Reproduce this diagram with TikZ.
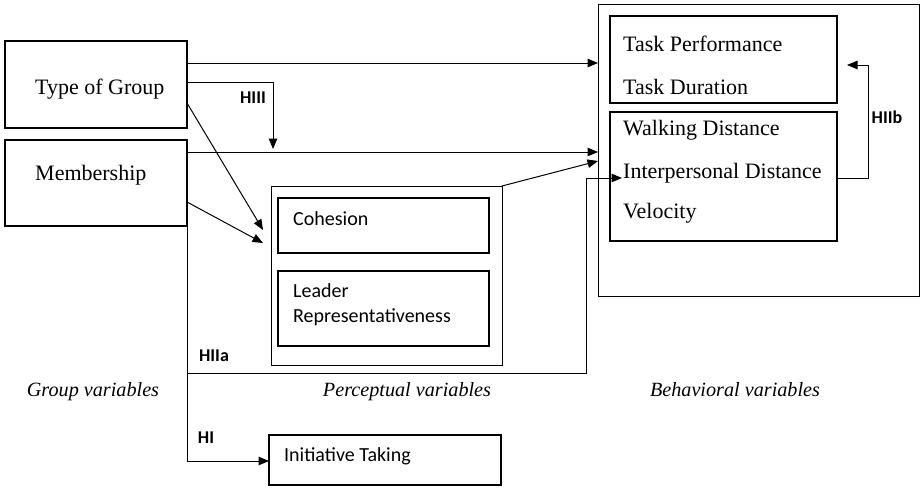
\documentclass[tikz,border=0pt]{standalone}
\usepackage{fontspec}
\setmainfont{Liberation Serif}
\newfontfamily\calfont{Carlito}
\usetikzlibrary{arrows.meta}
\begin{document}
\begin{tikzpicture}[x=1pt,y=-1pt,
  thickbox/.style={draw, line width=2.2pt, inner sep=0pt, outer sep=0pt, anchor=north west},
  thinbox/.style={draw, line width=1pt, inner sep=0pt, outer sep=0pt, anchor=north west},
  serif/.style={font=\fontsize{22}{24}\selectfont, anchor=base west, inner sep=0pt},
  sans/.style={font=\calfont\fontsize{20}{22}\selectfont, anchor=base west, inner sep=0pt},
  hyp/.style={font=\calfont\bfseries\fontsize{18}{20}\selectfont, inner sep=0pt},
  cat/.style={font=\itshape\fontsize{20.2}{22}\selectfont, inner sep=0pt, anchor=base},
  arr/.style={line width=1pt, -{Triangle[length=10.5pt,width=8.5pt]}}]
\useasboundingbox (0,0) rectangle (922,490);

% boxes
\node[thickbox, minimum width=182pt, minimum height=87pt] (tog) at (5,41) {};
\node[thickbox, minimum width=182pt, minimum height=86pt] (mem) at (5,140) {};
\node[thinbox, minimum width=231pt, minimum height=179pt] (perc) at (271,186) {};
\node[thickbox, minimum width=211pt, minimum height=55pt] (coh) at (278,198) {};
\node[thickbox, minimum width=211pt, minimum height=75pt] (lead) at (278,271) {};
\node[thinbox, minimum width=321pt, minimum height=292pt] (beh) at (598,4) {};
\node[thickbox, minimum width=227pt, minimum height=87pt] (task) at (610,16) {};
\node[thickbox, minimum width=227pt, minimum height=129pt] (walk) at (610,112) {};
\node[thickbox, minimum width=232pt, minimum height=50pt] (init) at (269,435) {};

% texts
\node[serif] (ttog) at (35,94) {Type of Group};
\node[serif] (tmem) at (35,180) {Membership};
\node[serif] (ttp) at (623,51) {Task Performance};
\node[serif] (ttd) at (623,94) {Task Duration};
\node[serif] (twd) at (623,135) {Walking Distance};
\node[serif] (tid) at (623,178) {Interpersonal Distance};
\node[serif] (tvel) at (623,218) {Velocity};
\node[sans] (tcoh) at (293,225) {Cohesion};
\node[sans] (tlead1) at (293,297) {Leader};
\node[sans] (tlead2) at (293,322) {Representativeness};
\node[sans] (tinit) at (284,461) {Initiative Taking};

\node[hyp] (h3l) at (253,98) {HIII};
\node[hyp] (h2al) at (214,356) {HIIa};
\node[hyp] (h1l) at (206,438) {HI};
\node[hyp] (h2bl) at (887,117) {HIIb};

\node[cat] (cg) at (93,396) {Group variables};
\node[cat] (cp) at (407,396) {Perceptual variables};
\node[cat] (cb) at (735,396) {Behavioral variables};

% free ends
\coordinate (h3end) at (273,149);
\coordinate (d1end) at (263,230);
\coordinate (d2end) at (263,243);
\coordinate (h2aturn) at (586,373);

% connectors
\draw[arr] (tog.east |- 0,63) -- (beh.west |- 0,63);
\draw[arr] (tog.east |- 0,82) -| (h3end);
\draw[arr] (mem.east |- 0,152) -- (beh.west |- 0,152);
\draw[arr] (tog.east |- 0,103) -- (d1end);
\draw[arr] (mem.east |- 0,202) -- (d2end);
\draw[arr] (perc.north east) -- (beh.west |- 0,161);
\draw[arr] (mem.south east) -- (mem.south east |- h2aturn) -- (h2aturn) -- (h2aturn |- 0,178) -- ([xshift=12pt]walk.west |- 0,178);
\draw[arr] (mem.south east) |- (init.west |- 0,461);
\draw[arr] (walk.east |- 0,178) -| (868,65) -- ([xshift=10pt]task.east |- 0,65);
\end{tikzpicture}
\end{document}
